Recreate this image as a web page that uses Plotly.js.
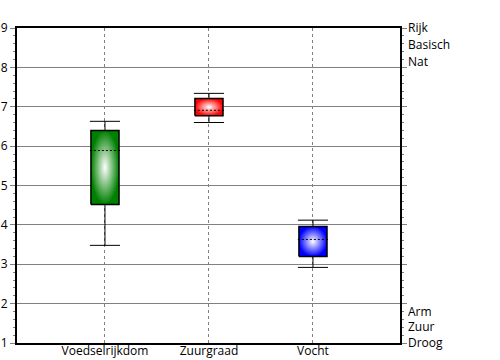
<!DOCTYPE html>
<html>
<head>
<meta charset="utf-8">
<script src="https://cdn.plot.ly/plotly-3.0.1.min.js"></script>
<style>html,body{margin:0;padding:0;background:#fff;}#chart{width:500px;height:360px;}</style>
</head>
<body>
<div id="chart"></div>
<script>
const categories = ['Voedselrijkdom', 'Zuurgraad', 'Vocht'];
const q1 = [4.52, 6.77, 3.20];
const q3 = [6.40, 7.21, 3.96];
const meanVals = [5.89, 6.91, 3.63];
const whiskerLow = [3.48, 6.60, 2.92];
const whiskerHigh = [6.63, 7.34, 4.12];
const boxColors = ['#008000', '#ff0000', '#0000ff'];
const leftTickVals = [1, 2, 3, 4, 5, 6, 7, 8, 9];
const rightTickVals = [9, 8.57, 8.15, 1.8, 1.4, 1.0];
const rightTickText = ['Rijk', 'Basisch', 'Nat', 'Arm', 'Zuur', 'Droog'];

const boxHalf = 0.135, capHalf = 0.145;
const traces = [];
categories.forEach((c, i) => {
  const x0 = i - boxHalf, x1 = i + boxHalf;
  traces.push({
    type: 'scatter', mode: 'lines', x: [x0, x1, x1, x0, x0], y: [q1[i], q1[i], q3[i], q3[i], q1[i]],
    fill: 'toself', line: {width: 1.5, color: '#000'},
    fillgradient: {type: 'radial', colorscale: [[0, '#ffffff'], [1, boxColors[i]]]},
    hoverinfo: 'skip', showlegend: false
  });
  traces.push({
    type: 'scatter', mode: 'lines',
    x: [i, i, null, i, i, null, i - capHalf, i + capHalf, null, i - capHalf, i + capHalf],
    y: [q3[i], whiskerHigh[i], null, q1[i], whiskerLow[i], null, whiskerHigh[i], whiskerHigh[i], null, whiskerLow[i], whiskerLow[i]],
    line: {width: 1, color: '#000'}, hoverinfo: 'skip', showlegend: false
  });
  traces.push({
    type: 'scatter', mode: 'lines', x: [i - capHalf, i + capHalf], y: [meanVals[i], meanVals[i]],
    line: {width: 1, color: '#000', dash: '2px,2px'}, hoverinfo: 'skip', showlegend: false
  });
});
traces.push({type: 'scatter', x: [0], y: [5], yaxis: 'y2', mode: 'markers', marker: {opacity: 0}, hoverinfo: 'skip', showlegend: false});

const font = {family: 'Open Sans, sans-serif', size: 12, color: '#000'};
const layout = {
  width: 500, height: 360,
  margin: {l: 17, r: 100, t: 28, b: 17},
  paper_bgcolor: '#fff', plot_bgcolor: '#fff',
  font: font, showlegend: false,
  xaxis: {
    range: [-0.846, 2.837], tickvals: [0, 1, 2], ticktext: categories,
    showgrid: true, gridcolor: '#808080', griddash: '3px,3px', gridwidth: 1,
    showline: true, linecolor: '#000', linewidth: 2, mirror: true,
    ticks: '', zeroline: false, tickfont: font, ticklabelstandoff: -4, fixedrange: true
  },
  yaxis: {
    range: [1, 9], tickvals: leftTickVals,
    showgrid: true, gridcolor: '#808080', gridwidth: 1,
    showline: true, linecolor: '#000', linewidth: 2, mirror: 'ticks',
    ticks: 'outside', ticklen: 5, tickcolor: '#808080', tickwidth: 1,
    minor: {dtick: 0.2, ticks: 'outside', ticklen: 2, tickcolor: '#808080', showgrid: false},
    zeroline: false, tickfont: font, fixedrange: true
  },
  yaxis2: {
    overlaying: 'y', side: 'right', range: [1, 9],
    tickvals: rightTickVals, ticktext: rightTickText,
    ticks: '', showgrid: false, showline: false, zeroline: false,
    tickfont: font, ticklabelstandoff: 7, fixedrange: true
  }
};
Plotly.newPlot('chart', traces, layout, {displayModeBar: false, staticPlot: true});
</script>
</body>
</html>
